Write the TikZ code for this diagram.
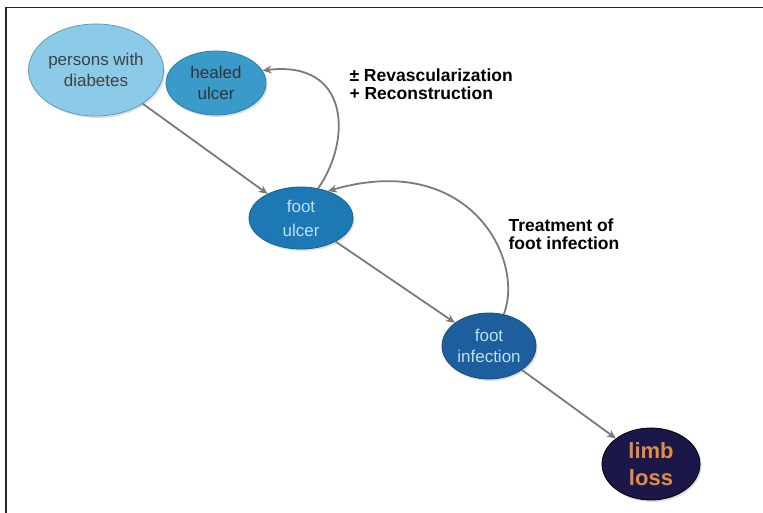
\documentclass[tikz,border=0pt]{standalone}
\usepackage{fontspec}
\setmainfont{Liberation Sans}
\usetikzlibrary{shapes.geometric,arrows.meta,shadows}
\definecolor{cPers}{HTML}{8CCBE8}
\definecolor{cPersB}{HTML}{5A9DBE}
\definecolor{cHeal}{HTML}{3A9BCB}
\definecolor{cHealB}{HTML}{2A7FAE}
\definecolor{cUlc}{HTML}{1C79B5}
\definecolor{cInf}{HTML}{1D5F9E}
\definecolor{cLimb}{HTML}{1B1748}
\definecolor{cArr}{HTML}{7A7A7A}
\definecolor{cOr}{HTML}{E38B45}
\tikzset{
  bub/.style={ellipse, draw, line width=0.8pt, inner sep=0pt, align=center,
    font=\fontsize{17}{21}\selectfont, drop shadow={shadow xshift=1.5pt, shadow yshift=-2pt, opacity=0.25}},
  arr/.style={draw=cArr, line width=1.8pt, -{Stealth[length=9pt,width=8pt]}},
  lab/.style={font=\bfseries\fontsize{17.5}{18}\selectfont, align=left, anchor=west}
}
\begin{document}
\begin{tikzpicture}[x=1pt,y=-1pt]
\useasboundingbox (0,0) rectangle (763,513);
\fill[white] (0,0) rectangle (763,513);
% frame
\draw[line width=1.6pt, black!85] (6,513) -- (6,7.5) -- (763,7.5);
\node[anchor=base west, font=\fontsize{14}{16}\selectfont, inner sep=0pt] (ptxt) at (23,-3) {p};
% nodes
\node[bub, fill=cPers, draw=cPersB, minimum width=134pt, minimum height=92pt, text=black!75] (pers) at (96,70) {persons with\\diabetes};
\node[bub, fill=cHeal, draw=cHealB, minimum width=100pt, minimum height=64pt, text=black!80] (heal) at (216,83) {healed\\ulcer};
\node[bub, fill=cUlc, draw=cUlc!80!black, minimum width=104pt, minimum height=62pt, text=cPers!60!white, font=\fontsize{17}{24}\selectfont] (ulc) at (301,218) {foot\\ulcer};
\node[bub, fill=cInf, draw=cInf!80!black, minimum width=94pt, minimum height=66pt, text=cPers!60!white] (inf) at (489,346) {foot\\infection};
\node[bub, fill=cLimb, draw=black, minimum width=98pt, minimum height=72pt, text=cOr, font=\bfseries\fontsize{22}{27}\selectfont] (limb) at (651,464) {limb\\loss};
% labels
\node[lab] (revlab) at (346,84) {± Revascularization\\+ Reconstruction};
\node[lab] (trlab) at (505,234) {Treatment of\\foot infection};
% connectors
\draw[arr] (pers) -- (ulc);
\draw[arr] (ulc) -- (inf);
\draw[arr] (inf) -- (limb);
\draw[arr] (ulc.60) .. controls (352,140) and (350,60) .. (heal.15);
\draw[arr] (inf.65) .. controls (525,260) and (470,150) .. (ulc.45);
\end{tikzpicture}
\end{document}
